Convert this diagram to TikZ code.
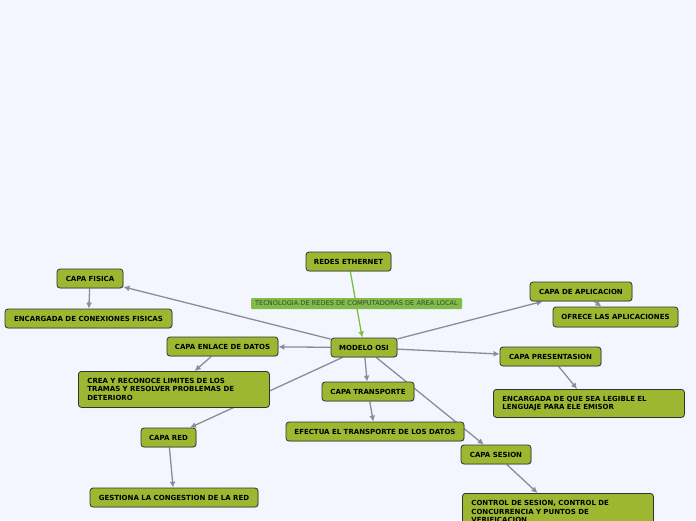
\documentclass[tikz,border=0pt]{standalone}
\usepackage{fontspec}
\setmainfont{DejaVu Sans}
\usetikzlibrary{shadows,arrows.meta}
\pgfdeclarelayer{paper}
\pgfdeclarelayer{edges}
\pgfsetlayers{paper,edges,main}
\definecolor{bg}{RGB}{243,246,255}
\definecolor{nodegreen}{RGB}{157,183,48}
\definecolor{edgegray}{RGB}{140,140,150}
\definecolor{linkgreen}{RGB}{122,192,60}
\definecolor{labelgreen}{RGB}{130,188,72}
\definecolor{labeltext}{RGB}{60,70,55}
\tikzset{
  box/.style={draw=black!80, fill=nodegreen, rounded corners=3pt, line width=0.8pt,
    font=\fontsize{7}{8.5}\selectfont\bfseries, inner sep=0pt, text=black,
    drop shadow={shadow xshift=0.8pt, shadow yshift=-0.8pt, opacity=0.25}},
  mbox/.style={box, anchor=north west, align=left, inner xsep=9pt},
  conn/.style={draw=edgegray, line width=1.3pt, -{Latex[length=6pt,width=6pt]}},
  gconn/.style={draw=linkgreen, line width=1.3pt, -{Latex[length=6pt,width=6pt]}},
  lbl/.style={fill=labelgreen, rounded corners=1pt, inner sep=0pt, text=labeltext,
    font=\fontsize{6.6}{7}\selectfont, minimum height=11pt, minimum width=211pt}
}
\begin{document}
\begin{tikzpicture}[x=1pt,y=-1pt]
\begin{pgfonlayer}{paper}
\fill[bg] (0,0) rectangle (696,520);
\end{pgfonlayer}
\useasboundingbox (0,0) rectangle (696,520);
\clip (0,0) rectangle (696,520);

% nodes
\node[box, minimum width=85pt, minimum height=19pt] (eth) at (348.5,261.5) {REDES ETHERNET};
\node[box, minimum width=66pt, minimum height=19pt] (osi) at (364,347.5) {MODELO OSI};
\node[box, minimum width=66pt, minimum height=19pt] (fisica) at (90,278.5) {CAPA FISICA};
\node[box, minimum width=167pt, minimum height=19pt] (encfis) at (88.5,318.5) {ENCARGADA DE CONEXIONES FISICAS};
\node[box, minimum width=111pt, minimum height=19pt] (enlace) at (222.5,346.5) {CAPA ENLACE DE DATOS};
\node[mbox, minimum width=191pt, minimum height=36pt, text width=173pt] (crea) at (78,371) {CREA Y RECONOCE LIMITES DE LOS\\TRAMAS Y RESOLVER PROBLEMAS DE\\DETERIORO};
\node[box, minimum width=55pt, minimum height=19pt] (red) at (168.5,437.5) {CAPA RED};
\node[box, minimum width=168pt, minimum height=19pt] (gest) at (174,497.5) {GESTIONA LA CONGESTION DE LA RED};
\node[box, minimum width=92pt, minimum height=19pt] (transp) at (368,391.5) {CAPA TRANSPORTE};
\node[box, minimum width=178pt, minimum height=19pt] (efect) at (375,431.5) {EFECTUA EL TRANSPORTE DE LOS DATOS};
\node[box, minimum width=70pt, minimum height=19pt] (sesion) at (496,454.5) {CAPA SESION};
\node[mbox, minimum width=191pt, minimum height=37pt, text width=173pt] (control) at (462,493) {CONTROL DE SESION, CONTROL DE\\CONCURRENCIA Y PUNTOS DE\\VERIFICACION};
\node[box, minimum width=102pt, minimum height=19pt] (aplic) at (581,291.5) {CAPA DE APLICACION};
\node[box, minimum width=125pt, minimum height=20pt] (ofrece) at (615.5,317) {OFRECE LAS APLICACIONES};
\node[box, minimum width=101pt, minimum height=19pt] (pres) at (550.5,356.5) {CAPA PRESENTASION};
\node[mbox, minimum width=191pt, minimum height=28pt, text width=173pt] (legible) at (493,389) {ENCARGADA DE QUE SEA LEGIBLE EL\\LENGUAJE PARA ELE EMISOR};

% connectors (behind nodes)
\begin{pgfonlayer}{edges}
\draw[gconn] (eth) -- (osi);
\draw[conn] (osi) -- (fisica);
\draw[conn] (fisica) -- (encfis);
\draw[conn] (osi) -- (enlace);
\draw[conn] (enlace) -- (crea);
\draw[conn] (osi) -- (red);
\draw[conn] (red) -- (gest);
\draw[conn] (osi) -- (transp);
\draw[conn] (transp) -- (efect);
\draw[conn] (osi) -- (sesion);
\draw[conn] (sesion) -- (control);
\draw[conn] (osi) -- (aplic);
\draw[conn] (aplic) -- (ofrece);
\draw[conn] (osi) -- (pres);
\draw[conn] (pres) -- (legible);
\end{pgfonlayer}

% label on the Ethernet link
\node[lbl] (tec) at (356.5,303.5) {TECNOLOGIA DE REDES DE COMPUTADORAS DE AREA LOCAL};
\end{tikzpicture}
\end{document}
